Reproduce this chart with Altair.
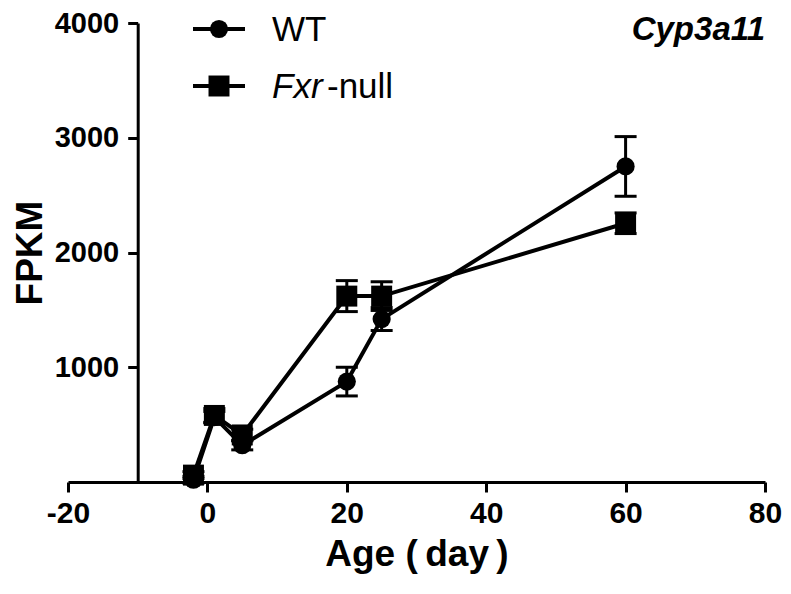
import altair as alt
import pandas as pd

days = [-2, 1, 5, 20, 25, 60]
wt_mean = [20, 565, 320, 875, 1420, 2750]
wt_sem = [30, 50, 40, 125, 100, 260]
fxr_mean = [60, 580, 410, 1620, 1620, 2255]
fxr_sem = [30, 60, 50, 135, 125, 90]
groups = ["WT", "Fxr-null"]
x_ticks = [-20, 0, 20, 40, 60, 80]
y_ticks = [1000, 2000, 3000, 4000]

rows = []
for g, means, sems in [(groups[0], wt_mean, wt_sem), (groups[1], fxr_mean, fxr_sem)]:
    for d, m, e in zip(days, means, sems):
        rows.append({"group": g, "day": d, "fpkm": m, "lo": m - e, "hi": m + e})
df = pd.DataFrame(rows)

FONT = "Liberation Sans"
W, H = 697, 459
xs = alt.Scale(domain=[-20, 80], nice=False, zero=False)
ys = alt.Scale(domain=[0, 4000], nice=False, zero=False)

x_axis = alt.Axis(values=x_ticks, title="Age (\u2009day\u2009)", labelPadding=6,
                  titlePadding=8, labelExpr="'' + datum.value", labelFlush=False,
                  labelFontSize=30)
y_axis = alt.Axis(values=y_ticks, title="FPKM", offset=-W * 10 / 100, labelPadding=9,
                  titlePadding=5, labelExpr="'' + datum.value", labelFontSize=29)

base = alt.Chart(df)

lines = base.mark_line(color="black", strokeWidth=4).encode(
    x=alt.X("day:Q", scale=xs, axis=x_axis),
    y=alt.Y("fpkm:Q", scale=ys, axis=y_axis),
    detail="group:N",
    order="day:Q",
)

err = base.mark_rule(color="black", strokeWidth=3, opacity=1).encode(
    x="day:Q", y="lo:Q", y2="hi:Q"
)

caps = base.transform_fold(["lo", "hi"], as_=["end", "val"]).mark_tick(
    color="black", orient="horizontal", size=22, thickness=3, opacity=1
).encode(x="day:Q", y="val:Q")

shape_scale = alt.Scale(domain=groups, range=["circle", "square"])
size_scale = alt.Scale(domain=groups, range=[330, 440])

points = base.mark_point(filled=True, color="black", opacity=1).encode(
    x="day:Q",
    y="fpkm:Q",
    shape=alt.Shape("group:N", scale=shape_scale, legend=None),
    size=alt.Size("group:N", scale=size_scale, legend=None),
)

one = alt.Chart(pd.DataFrame({"k": [0]}))
r1, r2 = 6, 63

leg_line1 = one.mark_rule(color="black", strokeWidth=4).encode(
    x=alt.value(125), x2=alt.value(177), y=alt.value(r1))
leg_line2 = one.mark_rule(color="black", strokeWidth=4).encode(
    x=alt.value(125), x2=alt.value(177), y=alt.value(r2))
leg_pt1 = one.mark_point(filled=True, color="black", opacity=1, shape="circle", size=330).encode(
    x=alt.value(151), y=alt.value(r1))
leg_pt2 = one.mark_point(filled=True, color="black", opacity=1, shape="square", size=440).encode(
    x=alt.value(151), y=alt.value(r2))
leg_t1 = one.mark_text(font=FONT, fontSize=35, color="black", align="left",
                       baseline="alphabetic", text="WT").encode(
    x=alt.value(204), y=alt.value(r1 + 12))
leg_t2a = one.mark_text(font=FONT, fontSize=35, fontStyle="italic", color="black",
                        align="left", baseline="alphabetic", text="Fxr").encode(
    x=alt.value(204), y=alt.value(r2 + 12))
leg_t2b = one.mark_text(font=FONT, fontSize=35, color="black", align="left",
                        baseline="alphabetic", text="-null").encode(
    x=alt.value(259), y=alt.value(r2 + 12))
gene = one.mark_text(font=FONT, fontSize=33, fontWeight="bold", fontStyle="italic",
                     color="black", align="right", baseline="alphabetic",
                     text="Cyp3a11").encode(x=alt.value(697), y=alt.value(17))

chart = alt.layer(
    lines, err, caps, points,
    leg_line1, leg_line2, leg_pt1, leg_pt2, leg_t1, leg_t2a, leg_t2b, gene,
).properties(
    width=W, height=H,
    autosize=alt.AutoSizeParams(type="none"),
    padding={"left": 60, "top": 15, "right": 18, "bottom": 102},
).configure_view(strokeWidth=0).configure_axis(
    grid=False, domainColor="black", domainWidth=3, tickColor="black", tickWidth=3,
    tickSize=10, labelFont=FONT, labelFontWeight="bold",
    labelColor="black", titleFont=FONT, titleFontWeight="bold", titleFontSize=37,
    titleColor="black",
)

chart.save("out.html", embed_options={"renderer": "svg", "actions": False})
